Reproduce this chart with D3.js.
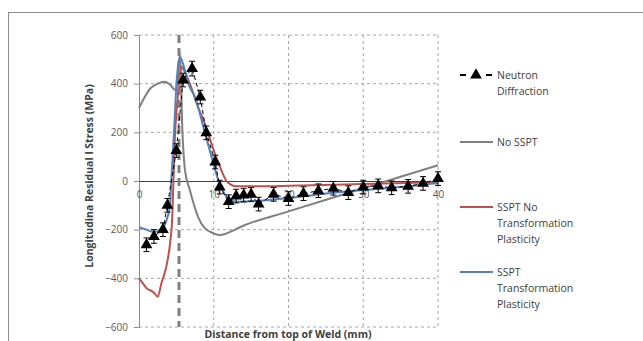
<!DOCTYPE html>
<html>
<head>
<meta charset="utf-8">
<script src="https://cdn.jsdelivr.net/npm/d3@7"></script>
<style>
  body { margin: 0; background: #fff; }
  svg { display: block; font-family: "Open Sans", sans-serif; }
</style>
</head>
<body>
<svg id="chart" width="643" height="341"></svg>
<script>
// Neutron diffraction measurements
const ndX = [1.0, 2.0, 3.2, 3.8, 5.0, 5.9, 7.1, 8.2, 9.0, 10.2, 10.8, 12.0, 13.0, 14.0, 15.0, 16.0, 18.0, 20.0, 22.0, 24.0, 26.0, 28.0, 30.0, 32.0, 33.8, 36.0, 38.0, 40.0];
const ndY = [-262, -228, -200, -100, 125, 415, 462, 345, 198, 78, -25, -85, -62, -58, -55, -95, -55, -72, -52, -40, -30, -48, -25, -20, -28, -22, -10, 10];
const ndErr = [28, 28, 28, 28, 28, 28, 30, 28, 28, 28, 28, 28, 28, 28, 28, 28, 28, 28, 28, 28, 28, 28, 28, 28, 28, 28, 28, 28];

// No SSPT
const noX = [0, 0.5, 1.5, 2.5, 3.4, 4.2, 4.8, 5.2, 5.5, 5.8, 6.15, 6.8, 7.9, 8.8, 10.0, 10.8, 11.5, 12.5, 13.5, 20, 30, 40];
const noY = [300, 330, 380, 400, 408, 395, 375, 420, 525, 210, 45, -37, -147, -194, -215, -222, -218, -205, -190, -125, -30, 65];

// SSPT, no transformation plasticity
const redX = [0, 0.5, 1.0, 1.9, 2.5, 3.0, 3.7, 4.15, 4.45, 4.6, 4.75, 5.2, 5.7, 6.1, 6.8, 7.7, 9.1, 10.0, 10.8, 11.7, 12.3, 13.0, 15, 20, 30, 40];
const redY = [-400, -420, -440, -456, -475, -420, -345, -257, -147, -10, 140, 350, 470, 450, 400, 320, 210, 125, 60, 0, -15, -22, -22, -20, -12, -5];

// SSPT with transformation plasticity
const bluX = [0, 1.0, 1.9, 2.8, 3.6, 4.15, 4.3, 4.7, 5.05, 5.5, 6.0, 6.6, 7.5, 8.8, 9.7, 10.6, 11.3, 12.2, 13.0, 16.0, 20, 24, 30, 35, 40];
const bluY = [-190, -200, -209, -206, -168, -99, -10, 210, 416, 510, 470, 400, 345, 200, 100, 5, -45, -78, -85, -82, -70, -55, -37, -25, -8];

const weldX = 5.35;

const xTicks = [0, 10, 20, 30, 40];
const yTicks = [-600, -400, -200, 0, 200, 400, 600];

const svg = d3.select("#chart");

// outer frame
svg.append("rect")
  .attr("x", 8.5).attr("y", 12.5)
  .attr("width", 700).attr("height", 400)
  .attr("fill", "none").attr("stroke", "#8c8c8c").attr("stroke-width", 1);

const x = d3.scaleLinear().domain([0, 40]).range([139, 438]);
const y = d3.scaleLinear().domain([-600, 600]).range([327, 35]);

// gridlines
svg.append("g").selectAll("line")
  .data(yTicks.filter(d => d !== 0))
  .join("line")
  .attr("x1", x(0)).attr("x2", x(40))
  .attr("y1", d => y(d)).attr("y2", d => y(d))
  .attr("stroke", "#a6a6a6").attr("stroke-dasharray", "3,3");
svg.append("g").selectAll("line")
  .data(xTicks.filter(d => d !== 0))
  .join("line")
  .attr("x1", d => x(d)).attr("x2", d => x(d))
  .attr("y1", y(600)).attr("y2", y(-600))
  .attr("stroke", "#a6a6a6").attr("stroke-dasharray", "3,3");

// y axis
const yAxis = svg.append("g")
  .attr("transform", `translate(${x(0)},0)`)
  .call(d3.axisLeft(y).tickValues(yTicks).tickSize(5).tickPadding(6));
yAxis.select(".domain").attr("stroke", "#8c8c8c");
yAxis.selectAll(".tick line").attr("stroke", "#8c8c8c");
yAxis.selectAll("text").attr("fill", "#595959").style("font-size", "10px")
  .style("font-family", "Open Sans, sans-serif");

// x axis along zero
const xAxis = svg.append("g")
  .attr("transform", `translate(0,${y(0)})`)
  .call(d3.axisBottom(x).tickValues(xTicks).tickSize(0).tickPadding(10));
xAxis.select(".domain").attr("stroke", "#404040");
xAxis.selectAll("text").attr("fill", "#595959").style("font-size", "10px")
  .style("font-family", "Open Sans, sans-serif");

// weld line
svg.append("line")
  .attr("x1", x(weldX)).attr("x2", x(weldX))
  .attr("y1", y(600)).attr("y2", y(-600))
  .attr("stroke", "#808080").attr("stroke-width", 3)
  .attr("stroke-dasharray", "8,5");

const line = d3.line().x(d => x(d[0])).y(d => y(d[1])).curve(d3.curveMonotoneX);

function series(xs, ys, color) {
  svg.append("path")
    .datum(xs.map((v, i) => [v, ys[i]]))
    .attr("fill", "none")
    .attr("stroke", color)
    .attr("stroke-width", 2)
    .attr("d", line);
}
series(noX, noY, "#808080");
series(redX, redY, "#c0504d");
series(bluX, bluY, "#4f81bd");

// neutron diffraction
const nd = ndX.map((v, i) => ({x: v, y: ndY[i], e: ndErr[i]}));
svg.append("path")
  .datum(nd)
  .attr("fill", "none").attr("stroke", "#000").attr("stroke-width", 1)
  .attr("stroke-dasharray", "4,3")
  .attr("d", d3.line().x(d => x(d.x)).y(d => y(d.y)));

const eb = svg.append("g").attr("stroke", "#000").attr("stroke-width", 1);
eb.selectAll(".v").data(nd).join("line")
  .attr("x1", d => x(d.x)).attr("x2", d => x(d.x))
  .attr("y1", d => y(d.y + d.e)).attr("y2", d => y(d.y - d.e));
eb.selectAll(".t").data(nd).join("line")
  .attr("x1", d => x(d.x) - 3).attr("x2", d => x(d.x) + 3)
  .attr("y1", d => y(d.y + d.e)).attr("y2", d => y(d.y + d.e));
eb.selectAll(".b").data(nd).join("line")
  .attr("x1", d => x(d.x) - 3).attr("x2", d => x(d.x) + 3)
  .attr("y1", d => y(d.y - d.e)).attr("y2", d => y(d.y - d.e));

const tri = d3.symbol().type(d3.symbolTriangle).size(60);
svg.append("g").selectAll("path").data(nd).join("path")
  .attr("transform", d => `translate(${x(d.x)},${y(d.y)})`)
  .attr("d", tri).attr("fill", "#000");

// axis titles
svg.append("text")
  .attr("transform", `translate(93,176) rotate(-90)`)
  .attr("text-anchor", "middle")
  .attr("font-weight", "bold").attr("font-size", "10.5px").attr("fill", "#404040")
  .text("Longitudina Residual l Stress (MPa)");
svg.append("text")
  .attr("x", 288).attr("y", 338)
  .attr("text-anchor", "middle")
  .attr("font-weight", "bold").attr("font-size", "10.5px").attr("fill", "#404040")
  .text("Distance from top of Weld (mm)");

// legend
const legend = svg.append("g").attr("font-size", "10.5px").attr("fill", "#404040");
const items = [
  {y: 75, lines: ["Neutron", "Diffraction"], color: "#000", nd: true},
  {y: 142, lines: ["No SSPT"], color: "#808080"},
  {y: 207, lines: ["SSPT No", "Transformation", "Plasticity"], color: "#c0504d"},
  {y: 272, lines: ["SSPT", "Transformation", "Plasticity"], color: "#4f81bd"}
];
items.forEach(it => {
  if (it.nd) {
    legend.append("line").attr("x1", 460).attr("x2", 492)
      .attr("y1", it.y).attr("y2", it.y)
      .attr("stroke", "#000").attr("stroke-width", 2).attr("stroke-dasharray", "6,7");
    legend.append("path").attr("transform", `translate(476,${it.y})`)
      .attr("d", tri).attr("fill", "#000");
  } else {
    legend.append("line").attr("x1", 460).attr("x2", 493)
      .attr("y1", it.y).attr("y2", it.y)
      .attr("stroke", it.color).attr("stroke-width", 2);
  }
  it.lines.forEach((t, i) => {
    legend.append("text").attr("x", 497).attr("y", it.y + i * 16 + 4).text(t);
  });
});
</script>
</body>
</html>
